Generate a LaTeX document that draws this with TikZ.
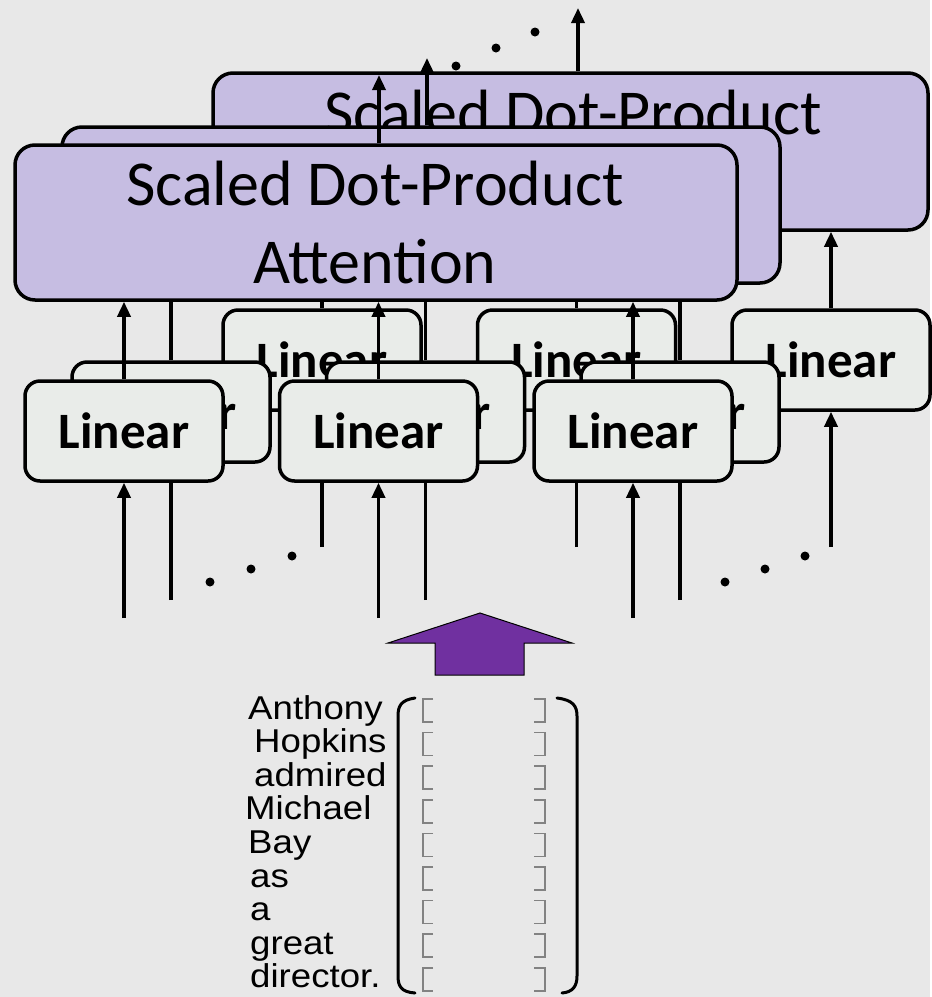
\documentclass[tikz,border=0pt]{standalone}
\usepackage{fontspec}
\usetikzlibrary{arrows.meta}
\newfontfamily\calfont{Carlito}
\newfontfamily\wordfont[FakeStretch=1.11]{Liberation Sans}
\definecolor{bg}{RGB}{232,232,232}
\definecolor{attnfill}{RGB}{198,189,226}
\definecolor{linfill}{RGB}{233,236,233}
\definecolor{arrowpurple}{RGB}{112,48,160}
\definecolor{brgray}{RGB}{130,130,130}
\begin{document}
\begin{tikzpicture}[x=1pt,y=-1pt,
  attn/.style={draw=black, line width=3.5pt, fill=attnfill, rounded corners=20pt, inner sep=0pt},
  lin/.style={draw=black, line width=3.5pt, fill=linfill, rounded corners=15pt, minimum width=198pt, minimum height=100pt, inner sep=0pt, font=\calfont\bfseries\fontsize{51}{56}\selectfont},
  attntext/.style={font=\calfont\fontsize{64}{70}\selectfont, inner sep=0pt, anchor=base},
  arr/.style={line width=3.5pt, -{Triangle[length=15pt,width=13pt]}},
  dot/.style={fill=black, circle, inner sep=0pt, minimum size=9pt},
  word/.style={font=\wordfont\fontsize{33}{36}\selectfont, inner sep=0pt, anchor=base west},
  paren/.style={line width=3pt, line cap=round},
  brk/.style={draw=brgray, line width=1.6pt},
  bigarrow/.style={fill=arrowpurple, draw=black, line width=1pt, line join=miter}
]
\fill[bg] (0,0) rectangle (930,997);

% ---------- back depth ----------
\node[attn, minimum width=715pt, minimum height=157pt] (ab) at (570.5,151.5) {};
\node[attntext] (abt) at (573,134) {Scaled Dot-Product};
\coordinate (ob) at (578,8);
\draw[arr] (ob |- ab.north) -- (ob);
\foreach \i/\cx in {1/322,2/576.5,3/831} {
  \node[lin] (lb\i) at (\cx,360) {Linear};
  \coordinate (ib\i) at (\cx,547);
  \draw[arr] (ib\i) -- (lb\i.south);
  \draw[arr] (lb\i.north) -- (lb\i.north |- ab.south);
}

% ---------- middle depth ----------
\node[attn, minimum width=718pt, minimum height=156pt] (am) at (421,205) {};
\coordinate (om) at (427,58);
\draw[arr] (om |- am.north) -- (om);
\foreach \i/\cx in {1/171,2/425.5,3/680} {
  \node[lin] (lm\i) at (\cx,412) {Linear};
  \coordinate (im\i) at (\cx,600);
  \draw[arr] (im\i) -- (lm\i.south);
  \draw[arr] (lm\i.north) -- (lm\i.north |- am.south);
}

% ---------- front depth ----------
\node[attn, minimum width=722pt, minimum height=155pt] (af) at (376,222.5) {};
\node[attntext] (aft1) at (375,205) {Scaled Dot-Product};
\node[attntext] (aft2) at (375,283) {Attention};
\coordinate (of) at (379,75);
\draw[arr] (of |- af.north) -- (of);
\foreach \i/\cx in {1/124,2/378.5,3/633} {
  \node[lin] (lf\i) at (\cx,431) {Linear};
  \coordinate (if\i) at (\cx,618);
  \draw[arr] (if\i) -- (lf\i.south);
  \draw[arr] (lf\i.north) -- (lf\i.north |- af.south);
}

% ---------- ellipses ----------
\node[dot] (d1) at (456,66) {};
\node[dot] (d2) at (496,48) {};
\node[dot] (d3) at (535,32) {};
\node[dot] (d4) at (210,582) {};
\node[dot] (d5) at (251,569) {};
\node[dot] (d6) at (292,556) {};
\node[dot] (d7) at (725,582) {};
\node[dot] (d8) at (765,569) {};
\node[dot] (d9) at (805,556) {};

% ---------- big purple arrow ----------
\draw[bigarrow] (480,613) -- (572,643) -- (524,643) -- (524,675) -- (435,675) -- (435,643) -- (388,643) -- cycle;

% ---------- words ----------
\node[word] (w1) at (248,719) {Anthony};
\node[word] (w2) at (254,752.6) {Hopkins};
\node[word] (w3) at (254,786.2) {admired};
\node[word] (w4) at (245,819.8) {Michael};
\node[word] (w5) at (248,853.4) {Bay};
\node[word] (w6) at (250,887) {as};
\node[word] (w7) at (250,920.6) {a};
\node[word] (w8) at (250,954.2) {great};
\node[word] (w9) at (250,987.8) {director.};

% ---------- matrix ----------
\draw[paren] (415,698) .. controls (401,700) and (398,706) .. (398,716) -- (398,976) .. controls (398,986) and (401,992) .. (415,993);
\draw[paren] (557,698) .. controls (573,700) and (577,706) .. (577,716) -- (577,976) .. controls (577,986) and (573,992) .. (562,993);
\foreach \k in {0,...,8} {
  \pgfmathsetmacro\t{699+33.6*\k}
  \draw[brk] (433,\t) -- (423,\t) -- (423,{\t+23}) -- (433,{\t+23});
  \draw[brk] (534,\t) -- (545,\t) -- (545,{\t+23}) -- (534,{\t+23});
}
\end{tikzpicture}
\end{document}
